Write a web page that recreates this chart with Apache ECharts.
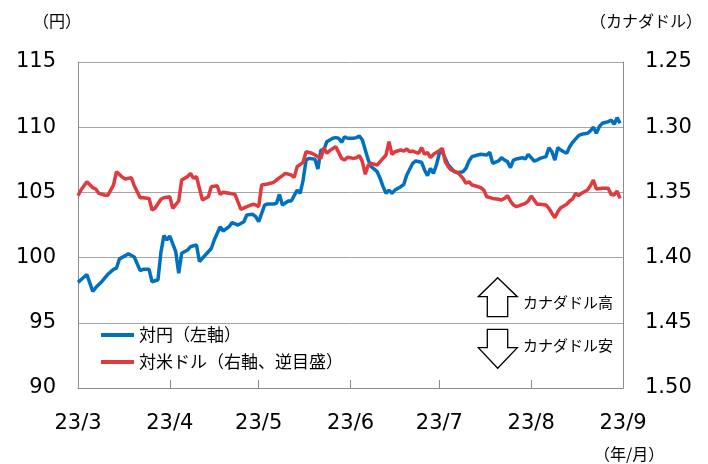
<!DOCTYPE html>
<html>
<head>
<meta charset="utf-8">
<script src="https://cdn.jsdelivr.net/npm/echarts@6/dist/echarts.min.js"></script>
<style>
  html,body{margin:0;padding:0;background:#fff;}
  #chart{width:708px;height:464px;}
</style>
</head>
<body>
<div id="chart"></div>
<script>
// カナダドル 対円 / 対米ドル
var monthLabels = ['23/3', '23/4', '23/5', '23/6', '23/7', '23/8', '23/9'];

// 対円（左軸）
var jpyDates = [
  '3/1','3/2','3/4','3/6','3/7','3/9','3/11','3/13','3/14','3/15','3/17','3/18','3/20','3/22','3/23','3/25','3/26','3/28','3/29','3/30','3/31',
  '4/1','4/3','4/4','4/5','4/7','4/8','4/10','4/11','4/13','4/15','4/16','4/18','4/19','4/21','4/22','4/24','4/26','4/27','4/29','4/30',
  '5/1','5/3','5/4','5/6','5/7','5/8','5/9','5/11','5/12','5/14','5/15','5/16','5/17','5/18','5/20','5/21','5/22','5/23','5/24','5/26','5/27','5/28','5/29','5/30','5/31',
  '6/2','6/3','6/4','6/5','6/6','6/7','6/8','6/10','6/11','6/12','6/13','6/14','6/15','6/16','6/18','6/19','6/20','6/22','6/23','6/25','6/26','6/27','6/28','6/29','6/30',
  '7/1','7/2','7/3','7/4','7/5','7/6','7/7','7/9','7/10','7/11','7/12','7/14','7/15','7/17','7/18','7/19','7/21','7/22','7/23','7/24','7/25','7/26','7/27','7/29','7/30','7/31',
  '8/2','8/3','8/4','8/6','8/7','8/8','8/9','8/10','8/11','8/12','8/13','8/14','8/15','8/17','8/18','8/20','8/21','8/22','8/23','8/24','8/25','8/27','8/28','8/29','8/30','8/31'
];
var jpyValues = [
  98.1, 98.3, 98.7, 97.4, 97.7, 98.15, 98.7, 99.1, 99.2, 99.9, 100.15, 100.3, 100.05, 99.0, 99.1, 99.1, 98.15, 98.3, 100.4, 101.7, 101.35,
  101.65, 100.45, 98.8, 100.33, 100.58, 100.84, 100.97, 99.7, 100.2, 100.7, 101.35, 102.37, 102.04, 102.37, 102.68, 102.5, 102.75, 103.27, 103.32, 103.14,
  102.75, 104.03, 104.11, 104.11, 104.16, 104.85, 104.03, 104.34, 104.34, 105.18, 104.93, 105.95, 107.48, 107.61, 107.54, 106.79, 108.25, 108.25, 108.89, 109.15, 109.2, 109.15, 108.84, 109.27, 109.15,
  109.15, 109.2, 109.33, 109.02, 108.25, 107.48, 106.97, 106.59, 106.08, 105.44, 104.93, 105.18, 104.93, 105.18, 105.44, 105.62, 106.33, 107.23, 107.41, 107.31, 106.72, 106.28, 106.85, 106.46, 107.1,
  108.0, 108.12, 107.61, 107.1, 106.85, 106.59, 106.51, 106.59, 106.85, 107.41, 107.74, 107.87, 107.92, 107.87, 108.08, 107.23, 107.41, 107.66, 107.48, 107.36, 106.9, 107.48, 107.56, 107.66, 107.56, 107.92,
  107.41, 107.48, 107.61, 107.74, 108.43, 108.12, 107.48, 108.43, 108.25, 108.12, 108.0, 108.5, 108.84, 109.35, 109.46, 109.53, 109.71, 110.0, 109.53, 110.04, 110.3, 110.42, 110.55, 110.22, 110.73, 110.3
];

// 対米ドル（右軸、逆目盛）
var usdDates = [
  '3/1','3/2','3/4','3/6','3/7','3/8','3/10','3/11','3/13','3/14','3/16','3/17','3/19','3/20','3/22','3/23','3/25','3/26','3/27','3/29','3/30',
  '4/1','4/2','4/4','4/5','4/7','4/8','4/9','4/10','4/12','4/14','4/15','4/17','4/18','4/19','4/21','4/23','4/25','4/27','4/29','4/30',
  '5/1','5/2','5/4','5/6','5/7','5/9','5/10','5/12','5/13','5/14','5/16','5/17','5/19','5/20','5/22','5/23','5/24','5/25','5/27','5/29','5/30','5/31',
  '6/2','6/3','6/4','6/5','6/6','6/7','6/8','6/10','6/11','6/13','6/14','6/15','6/16','6/18','6/19','6/20','6/21','6/22','6/24','6/25','6/26','6/27','6/28','6/29',
  '7/1','7/2','7/3','7/4','7/5','7/6','7/7','7/8','7/9','7/10','7/11','7/12','7/13','7/15','7/16','7/17','7/19','7/21','7/22','7/23','7/24','7/25','7/26','7/27','7/28','7/30','7/31',
  '8/1','8/2','8/3','8/4','8/6','8/7','8/8','8/9','8/10','8/11','8/13','8/14','8/15','8/16','8/17','8/18','8/20','8/21','8/22','8/23','8/25','8/27','8/28','8/29','8/30','8/31'
];
var usdValues = [
  1.3525, 1.3482, 1.3418, 1.3464, 1.3474, 1.3507, 1.352, 1.3525, 1.3443, 1.3341, 1.3384, 1.3397, 1.3387, 1.3449, 1.3541, 1.3541, 1.3546, 1.3635, 1.3622, 1.3553, 1.3541,
  1.3533, 1.3622, 1.3566, 1.3405, 1.3379, 1.3354, 1.3392, 1.3379, 1.3558, 1.3533, 1.3456, 1.3449, 1.3515, 1.3499, 1.3507, 1.3515, 1.363, 1.3609, 1.3591, 1.3597,
  1.3609, 1.3443, 1.3436, 1.3423, 1.3405, 1.3372, 1.3354, 1.3367, 1.3384, 1.3303, 1.3269, 1.3188, 1.32, 1.3213, 1.3239, 1.3157, 1.32, 1.318, 1.3149, 1.3239, 1.3252, 1.3231,
  1.3239, 1.3234, 1.3218, 1.3264, 1.3361, 1.329, 1.3277, 1.329, 1.3264, 1.3213, 1.3111, 1.3208, 1.3188, 1.3175, 1.3183, 1.3167, 1.3188, 1.3183, 1.32, 1.3157, 1.3208, 1.3193, 1.3234, 1.3208,
  1.318, 1.3162, 1.3265, 1.3303, 1.3328, 1.3336, 1.3346, 1.3367, 1.3392, 1.343, 1.3418, 1.3443, 1.3449, 1.3464, 1.3482, 1.3533, 1.3546, 1.3553, 1.3558, 1.3546, 1.3525, 1.3566, 1.3597, 1.3609, 1.3602, 1.3584, 1.3566,
  1.3528, 1.3558, 1.3591, 1.3591, 1.3597, 1.3622, 1.366, 1.3694, 1.3648, 1.3617, 1.3591, 1.3566, 1.3551, 1.3507, 1.3525, 1.3507, 1.3482, 1.3449, 1.3405, 1.3474, 1.3469, 1.3469, 1.3515, 1.352, 1.349, 1.3546
];

var leftTicks = [90, 115, 5];
var rightTicks = [1.25, 1.50, 0.05];

var numFont = 'DejaVu Sans';
var jpFont = 'Noto Sans CJK JP';

function toPairs(dates, values) {
  var out = [];
  for (var i = 0; i < dates.length; i++) {
    out.push(['2023-' + dates[i].replace('/', '-'), values[i]]);
  }
  return out;
}

(function(){
  var myChart = echarts.init(document.getElementById('chart'));
  var option = {
    animation: false,
    grid: { left: 78, right: 85, top: 62, bottom: 76 },
    legend: {
      orient: 'vertical',
      left: 101,
      top: 325,
      padding: 0,
      itemGap: 7,
      itemWidth: 33,
      itemHeight: 4,
      icon: 'rect',
      textStyle: { fontFamily: jpFont, fontSize: 17, color: '#000', lineHeight: 20 },
      data: ['対円（左軸）', '対米ドル（右軸、逆目盛）']
    },
    xAxis: {
      type: 'time',
      min: '2023-03-01',
      max: '2023-09-01',
      minInterval: 28 * 86400000,
      maxInterval: 31 * 86400000,
      axisLine: { lineStyle: { color: '#8c8c8c', width: 1 } },
      axisTick: { show: true, inside: true, length: 8, lineStyle: { color: '#8c8c8c' } },
      splitLine: { show: false },
      axisLabel: {
        color: '#000',
        fontFamily: numFont,
        fontSize: 21,
        margin: 25,
        showMinLabel: true,
        showMaxLabel: true,
        hideOverlap: false,
        formatter: function (v) {
          var d = new Date(v);
          return monthLabels[(d.getFullYear() - 2023) * 12 + d.getMonth() - 2] || '';
        }
      }
    },
    yAxis: [
      {
        type: 'value',
        position: 'left',
        min: leftTicks[0],
        max: leftTicks[1],
        interval: leftTicks[2],
        axisLine: { show: true, lineStyle: { color: '#8c8c8c' } },
        axisTick: { show: false },
        splitLine: { show: true, lineStyle: { color: '#a6a6a6', width: 1 } },
        axisLabel: { color: '#000', fontFamily: numFont, fontSize: 21, margin: 22 }
      },
      {
        type: 'value',
        position: 'right',
        inverse: true,
        min: rightTicks[0],
        max: rightTicks[1],
        interval: rightTicks[2],
        axisLine: { show: true, lineStyle: { color: '#8c8c8c' } },
        axisTick: { show: false },
        splitLine: { show: false },
        axisLabel: {
          color: '#000', fontFamily: numFont, fontSize: 21, margin: 22,
          formatter: function (v) { return v.toFixed(2); }
        }
      }
    ],
    series: [
      {
        name: '対円（左軸）',
        type: 'line',
        yAxisIndex: 0,
        showSymbol: false,
        symbol: 'none',
        lineStyle: { color: '#0070c0', width: 3.5 },
        itemStyle: { color: '#0070c0' },
        data: toPairs(jpyDates, jpyValues)
      },
      {
        name: '対米ドル（右軸、逆目盛）',
        type: 'line',
        yAxisIndex: 1,
        showSymbol: false,
        symbol: 'none',
        lineStyle: { color: '#e0393e', width: 3.5 },
        itemStyle: { color: '#e0393e' },
        data: toPairs(usdDates, usdValues)
      }
    ],
    graphic: [
      { type: 'text', left: 33, top: 13, style: { text: '（円）', fontFamily: jpFont, fontSize: 16, fill: '#000' } },
      { type: 'text', right: 6, top: 13, style: { text: '（カナダドル）', fontFamily: jpFont, fontSize: 16, fill: '#000' } },
      { type: 'text', left: 594, top: 446, style: { text: '（年/月）', fontFamily: jpFont, fontSize: 16, fill: '#000' } },
      {
        type: 'polygon',
        shape: { points: [[497.7, 277.7], [517.3, 296.7], [507.7, 296.7], [507.7, 316.7], [487.3, 316.7], [487.3, 296.7], [478.3, 296.7]] },
        style: { fill: '#fff', stroke: '#000', lineWidth: 1.3 }
      },
      {
        type: 'polygon',
        shape: { points: [[487.3, 329.3], [507.7, 329.3], [507.7, 347.7], [517.3, 347.7], [497.7, 368.3], [478.3, 347.7], [487.3, 347.7]] },
        style: { fill: '#fff', stroke: '#000', lineWidth: 1.3 }
      },
      { type: 'text', left: 523, top: 295, style: { text: 'カナダドル高', fontFamily: jpFont, fontSize: 15, fill: '#000' } },
      { type: 'text', left: 523, top: 338, style: { text: 'カナダドル安', fontFamily: jpFont, fontSize: 15, fill: '#000' } }
    ]
  };
  myChart.setOption(option);
  window.addEventListener('resize', function(){
    myChart.resize();
  });
})();
</script>
</body>
</html>
